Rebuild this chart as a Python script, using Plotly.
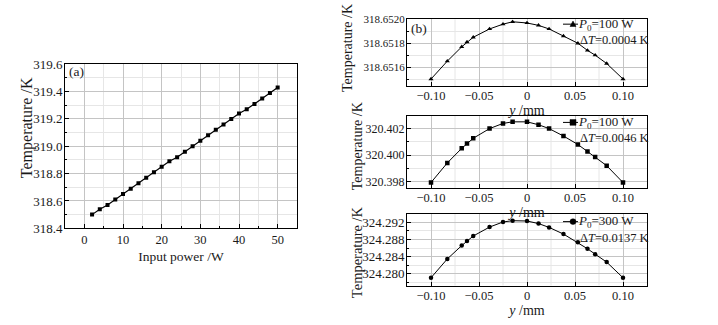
import plotly.graph_objects as go

# ---- data ----
power_w = [2, 4, 6, 8, 10, 12, 14, 16, 18, 20, 22, 24, 26, 28, 30, 32, 34, 36, 38, 40, 42, 44, 46, 48, 50]
temp_vs_power = [318.50, 318.54, 318.57, 318.61, 318.65, 318.69, 318.73, 318.77, 318.81, 318.85,
                 318.89, 318.92, 318.96, 319.00, 319.04, 319.08, 319.12, 319.16, 319.20, 319.24,
                 319.27, 319.31, 319.35, 319.39, 319.43]

y_mm = [-0.100, -0.083, -0.068, -0.0625, -0.056, -0.039, -0.025, -0.015, 0.000,
        0.012, 0.023, 0.038, 0.053, 0.063, 0.071, 0.083, 0.100]
temp_b1 = [318.65150, 318.65165, 318.65177, 318.65181, 318.65185, 318.65192, 318.65196, 318.65198, 318.65197,
           318.65195, 318.65192, 318.65186, 318.65180, 318.65174, 318.65170, 318.65163, 318.65150]
temp_b2 = [320.39793, 320.39941, 320.40051, 320.40088, 320.40127, 320.40200, 320.40239, 320.40251, 320.40251,
           320.40229, 320.40200, 320.40144, 320.40080, 320.40027, 320.39985, 320.39920, 320.39793]
temp_b3 = [324.27911, 324.28348, 324.28659, 324.28763, 324.28881, 324.29089, 324.29207, 324.29237, 324.29230,
           324.29170, 324.29081, 324.28926, 324.28733, 324.28585, 324.28459, 324.28274, 324.27911]

y_tickvals = [-0.10, -0.05, 0, 0.05, 0.10]
y_ticktext = ["\u22120.10", "\u22120.05", "0", "0.05", "0.10"]
power_labels = ["<i>P</i><sub>0</sub>=100 W", "<i>P</i><sub>0</sub>=100 W", "<i>P</i><sub>0</sub>=300 W"]
delta_labels = ["\u0394<i>T</i>=0.0004 K", "\u0394<i>T</i>=0.0046 K", "\u0394<i>T</i>=0.0137 K"]

W, H = 718, 325
FONT = "Liberation Serif"
TXT = "#1a1a1a"
GRID = "#c4c4c4"
MINOR = "#e6e6e6"


def px(x):
    return x / W


def py(y):
    return 1 - y / H


fig = go.Figure()
fig.add_trace(go.Scatter(x=power_w, y=temp_vs_power, mode="lines+markers",
                         line=dict(color="black", width=1.2),
                         marker=dict(symbol="square", size=4, color="black"),
                         xaxis="x", yaxis="y", showlegend=False))
symbols = ["triangle-up", "square", "circle"]
series = [temp_b1, temp_b2, temp_b3]
for i, (s, sym) in enumerate(zip(series, symbols)):
    fig.add_trace(go.Scatter(x=y_mm, y=s, mode="lines+markers", name=power_labels[i],
                             line=dict(color="black", width=1),
                             marker=dict(symbol=sym, size=4.5, color="black"),
                             xaxis="x%d" % (i + 2), yaxis="y%d" % (i + 2), showlegend=False))


def axis_common(**kw):
    d = dict(showline=True, linecolor="black", linewidth=1, mirror=True,
             showgrid=True, gridcolor=GRID, gridwidth=1, zeroline=False,
             ticks="inside", ticklen=4, tickcolor="black", tickwidth=1,
             tickfont=dict(family=FONT, size=13, color=TXT))
    d.update(kw)
    return d


layout = dict(
    width=W, height=H, margin=dict(l=0, r=0, t=0, b=0),
    paper_bgcolor="white", plot_bgcolor="white",
    font=dict(family=FONT, color=TXT),
    xaxis=axis_common(domain=[px(65), px(297)], range=[-5, 55], dtick=10, tick0=0, anchor="y",
                      tickfont=dict(family=FONT, size=12.5, color=TXT),
                      minor=dict(showgrid=True, gridcolor=MINOR, dtick=5, tick0=0,
                                 ticks="inside", ticklen=2, tickcolor="black"),
                      title=dict(text="Input power /W", font=dict(family=FONT, size=13.5), standoff=5)),
    yaxis=axis_common(domain=[py(232), py(60)], range=[318.4, 319.6], dtick=0.2, tick0=318.4,
                      tickformat=".1f", anchor="x", ticklabelstandoff=-1,
                      minor=dict(showgrid=True, gridcolor=MINOR, dtick=0.1, tick0=318.4,
                                 ticks="inside", ticklen=2, tickcolor="black")),
)
doms = [[py(83), py(13)], [py(190), py(114)], [py(292), py(217)]]
ranges = [[318.65144, 318.65200], [320.3975, 320.40297], [324.2773, 324.29393]]
dticks = [0.0002, 0.002, 0.004]
tick0s = [318.6516, 320.398, 324.280]
fmts = [".4f", ".3f", ".3f"]
ytick_sizes = [11, 12, 13]
for i in range(3):
    n = i + 2
    layout["xaxis%d" % n] = axis_common(domain=[px(407), px(647)], range=[-0.125, 0.125], anchor="y%d" % n,
                                        tickmode="array", tickvals=y_tickvals, ticktext=y_ticktext,
                                        ticklabelstandoff=-2,
                                        tickfont=dict(family=FONT, size=12.5, color=TXT),
                                        title=dict(text="<i>y</i> /mm", font=dict(family=FONT, size=14),
                                                   standoff=0))
    layout["yaxis%d" % n] = axis_common(domain=doms[i], range=ranges[i], dtick=dticks[i], tick0=tick0s[i],
                                        tickformat=fmts[i], anchor="x%d" % n, ticklabelstandoff=-1,
                                        tickfont=dict(family=FONT, size=ytick_sizes[i], color=TXT),
                                        minor=dict(showgrid=True, gridcolor=MINOR, dtick=dticks[i] / 2,
                                                   tick0=tick0s[i], ticks="inside", ticklen=2,
                                                   tickcolor="black"))
fig.update_layout(**layout)

# y-axis titles
ytitles = [(27, 127, 16), (347, 43, 14), (357, 146, 14), (357, 257, 14.5)]
for (xt, yt, fs) in ytitles:
    fig.add_annotation(x=px(xt), y=py(yt), xref="paper", yref="paper", text="Temperature /K",
                       textangle=-90, showarrow=False, xanchor="center", yanchor="middle",
                       font=dict(family=FONT, size=fs, color=TXT))

# light vertical grid between x ticks of (b) panels
for i in range(3):
    n = i + 2
    for xv in [-0.075, -0.025, 0.025, 0.075]:
        fig.add_shape(type="line", xref="x%d" % n, yref="y%d domain" % n, x0=xv, x1=xv, y0=0, y1=1,
                      line=dict(color=MINOR, width=1), layer="below")

# panel labels
fig.add_annotation(x=px(67), y=py(68), xref="paper", yref="paper", text="(a)", showarrow=False,
                   xanchor="left", yanchor="middle", font=dict(family=FONT, size=13.5, color=TXT))
fig.add_annotation(x=px(409), y=py(23), xref="paper", yref="paper", text="(b)", showarrow=False,
                   xanchor="left", yanchor="middle", font=dict(family=FONT, size=13.5, color=TXT))

# legend entries for (b)
leg_rows = [(18, 34.5), (121, 137.5), (225, 242.5)]
for i, (y1, y2) in enumerate(leg_rows):
    fig.add_shape(type="line", xref="paper", yref="paper", x0=px(563), x1=px(578), y0=py(y1), y1=py(y1),
                  line=dict(color="black", width=1))
    cx, cy, r = 573, y1, 3
    if symbols[i] == "triangle-up":
        path = "M %f,%f L %f,%f L %f,%f Z" % (px(cx - r), py(cy + r * 0.8), px(cx + r), py(cy + r * 0.8),
                                              px(cx), py(cy - r * 1.1))
        fig.add_shape(type="path", xref="paper", yref="paper", path=path, fillcolor="black",
                      line=dict(color="black", width=0.5))
    elif symbols[i] == "square":
        fig.add_shape(type="rect", xref="paper", yref="paper", x0=px(cx - r), x1=px(cx + r),
                      y0=py(cy + r), y1=py(cy - r), fillcolor="black", line=dict(color="black", width=0.5))
    else:
        fig.add_shape(type="circle", xref="paper", yref="paper", x0=px(cx - r), x1=px(cx + r),
                      y0=py(cy + r), y1=py(cy - r), fillcolor="black", line=dict(color="black", width=0.5))
    fig.add_annotation(x=px(576), y=py(y1), xref="paper", yref="paper", text=power_labels[i],
                       showarrow=False, xanchor="left", yanchor="middle",
                       font=dict(family=FONT, size=13, color=TXT))
    fig.add_annotation(x=px(578), y=py(y2), xref="paper", yref="paper", text=delta_labels[i],
                       showarrow=False, xanchor="left", yanchor="middle",
                       font=dict(family=FONT, size=12.5, color=TXT))

fig.write_html("out.html")
